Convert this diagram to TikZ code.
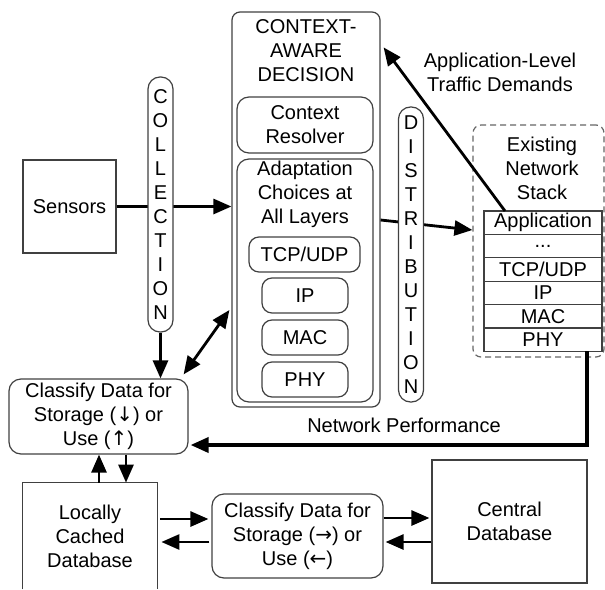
\documentclass[tikz,border=0pt]{standalone}
\usepackage{fontspec}
\setmainfont{Liberation Sans}
\newfontfamily\arrowfont{DejaVu Sans}
\usetikzlibrary{positioning,calc,arrows.meta}
\tikzset{
  box/.style={draw=black!75, line width=0.6pt, align=center, inner sep=0pt},
  rbox/.style={box, rounded corners=6pt},
  capsule/.style={box, fill=white, rounded corners=6pt, minimum width=12.5pt},
  layer/.style={box, outer sep=0pt, minimum width=59pt, minimum height=11.7pt},
  arr/.style={line width=1.4pt, -{Triangle[length=9pt,width=7.5pt]}},
  arrboth/.style={line width=1.4pt, {Triangle[length=9pt,width=7.5pt]}-{Triangle[length=9pt,width=7.5pt]}},
}
\begin{document}
\begin{tikzpicture}[x=0.5pt, y=-0.5pt, font=\fontsize{10}{12}\selectfont]
  \useasboundingbox (0,0) rectangle (605,589);
  \node[box, minimum width=46.5pt, minimum height=46.5pt] (sensors) at (69.5,206.5) {Sensors};
  \node[box, rounded corners=4pt, minimum width=74pt, minimum height=197.5pt] (decision) at (306,209.5) {};
  \node[align=center] (decisiontitle) at (306,51) {CONTEXT-\\AWARE\\DECISION};
  \node[rbox, minimum width=68pt, minimum height=28pt] (resolver) at (305,125) {Context\\Resolver};
  \node[rbox, minimum width=68pt, minimum height=121.5pt] (adaptation) at (305,280.5) {};
  \node[align=center] (adaptationtitle) at (305,194) {Adaptation\\Choices at\\All Layers};
  \node[rbox, rounded corners=5pt, minimum width=55.5pt, minimum height=17.5pt] (tcp) at (304.5,254.5) {TCP/UDP};
  \node[rbox, rounded corners=5pt, minimum width=43pt, minimum height=17.5pt] (ip) at (305,295.5) {IP};
  \node[rbox, rounded corners=5pt, minimum width=43pt, minimum height=17.5pt] (mac) at (305,337.5) {MAC};
  \node[rbox, rounded corners=5pt, minimum width=43pt, minimum height=17.5pt] (phy) at (305,379.5) {PHY};

  \node[box, draw=black!60, dash pattern=on 3pt off 2pt, rounded corners=4pt, minimum width=65.5pt, minimum height=116pt] (stack) at (538.5,241) {};
  \node[align=center] (stacktitle) at (542,168) {Existing\\Network\\Stack};
  \node[layer] (app) at (543,222.7) {Application};
  \node[layer, below=0pt of app] (dots) {...};
  \node[layer, below=0pt of dots] (tcp2) {TCP/UDP};
  \node[layer, below=0pt of tcp2] (ip2) {IP};
  \node[layer, below=0pt of ip2] (mac2) {MAC};
  \node[layer, below=0pt of mac2] (phy2) {PHY};

  \node[rbox, minimum width=89.5pt, minimum height=37.5pt] (classifyuse) at (98.5,416.5) {Classify Data for\\Storage ({\arrowfont ↓}) or\\Use ({\arrowfont ↑})};
  \node[minimum width=67pt, minimum height=53pt, align=center] (local) at (90,536) {Locally\\Cached\\Database};
  \draw[black!75, line width=0.6pt] (local.south west) |- (local.north east) -- (local.south east);
  \node[rbox, minimum width=85.5pt, minimum height=42pt] (classifystore) at (297.5,536) {Classify Data for\\Storage ({\arrowfont →}) or\\Use ({\arrowfont ←})};
  \node[box, minimum width=77.5pt, minimum height=61.5pt] (central) at (509.5,521.5) {Central\\Database};

  \node[align=center] (demands) at (500,72) {Application-Level\\Traffic Demands};
  \node (perf) at (404,425) {Network Performance};

  \draw[arr] (sensors.east) -- (sensors.east -| decision.west);
  \draw[arr] ($(decision.east)+(0,10.5)$) -- ($(stack.west)+(0,-11)$);
  \draw[arr] ($(app.north)+(-38,0)$) -- ($(decision.north east)+(3,36)$);
  \draw[arr, line width=1.8pt] ($(phy2.south)+(44,0)$) |- ($(classifyuse.east)+(2,28.5)$);
  \draw[arrboth] ($(classifyuse.north east)+(-5,-4)$) -- ($(decision.west)+(-2,100.5)$);
  \draw[arr] ($(local.north)+(9,0)$) -- ($(classifyuse.south)+(0.5,0)$);
  \draw[arr] ($(classifyuse.south)+(27.5,0)$) -- ($(local.north)+(36,0)$);
  \draw[arr] ($(local.east)+(3,-17)$) -- ($(classifystore.west)+(-3,-17)$);
  \draw[arr] ($(classifystore.west)+(-2,6)$) -- ($(local.east)+(4,6)$);
  \draw[arr] ($(classifystore.east)+(0,-18)$) -- ($(central.west)+(-2,-3.5)$);
  \draw[arr] ($(central.west)+(0,20.5)$) -- ($(classifystore.east)+(2,6)$);

  \node[capsule, minimum height=127.5pt] (collection) at (160.5,204.5) {C\\O\\L\\L\\E\\C\\T\\I\\O\\N};
  \node[capsule, minimum height=147.5pt] (distribution) at (411,254.5) {D\\I\\S\\T\\R\\I\\B\\U\\T\\I\\O\\N};
  \draw[arr] (collection.south) -- (collection.south |- classifyuse.north);
\end{tikzpicture}
\end{document}
